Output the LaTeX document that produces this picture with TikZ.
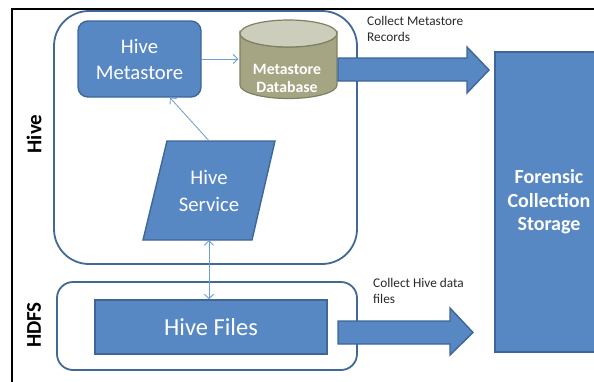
\documentclass[tikz,border=0pt]{standalone}
\usepackage{fontspec}
\setmainfont{Carlito}
\usetikzlibrary{arrows.meta}
\definecolor{boxblue}{RGB}{87,136,196}
\definecolor{boxedge}{RGB}{62,102,150}
\definecolor{contedge}{RGB}{66,104,150}
\definecolor{thinblue}{RGB}{108,156,212}
\definecolor{dbtop}{RGB}{205,205,188}
\definecolor{dbbody}{RGB}{165,165,132}
\definecolor{dbedge}{RGB}{128,128,100}
\definecolor{labelgray}{RGB}{40,40,40}
\tikzset{
  container/.style={draw=contedge, line width=1.8pt, fill=white},
  bluebox/.style={draw=boxedge, line width=1.4pt, fill=boxblue, text=white, align=center, inner sep=0pt},
  thinarrow/.style={draw=thinblue, line width=0.8pt},
  barb/.tip={Straight Barb[length=4.5pt,width=9pt]},
  blockarrow/.style={draw=boxedge, line width=1.4pt, fill=boxblue},
  smalllabel/.style={text=labelgray, align=left, inner sep=0pt, font=\fontsize{13.3}{16.5}\selectfont},
  sidelabel/.style={rotate=90, font=\fontsize{21}{24}\selectfont\bfseries, inner sep=0pt}
}
\begin{document}
\begin{tikzpicture}[x=1pt,y=-1pt]
\useasboundingbox (0,0) rectangle (594,381);
\clip (0,0) rectangle (594,381);
% outer frame
\draw[line width=1.3pt, black] (12,385) -- (12,9) -- (600,9);
% containers
\draw[container, rounded corners=35pt] (54,11) rectangle (357,264);
\draw[container, rounded corners=16pt] (57,282) rectangle (357,370);
\node[sidelabel] (hivelbl) at (34,134) {Hive};
\node[sidelabel] (hdfslbl) at (34,325) {HDFS};
% Hive Metastore
\node[bluebox, rounded corners=10pt, minimum width=123pt, minimum height=76pt,
      font=\fontsize{20.7}{26}\selectfont] (ms) at (139.5,59) {Hive\\Metastore};
% Metastore Database cylinder
\path[fill=dbbody, draw=dbedge, line width=1.2pt]
  (240,33.5) -- (240,85) arc[start angle=180, end angle=360, x radius=48.5pt, y radius=13.5pt]
  -- (337,33.5) arc[start angle=0, end angle=180, x radius=48.5pt, y radius=-13.5pt] -- cycle;
\draw[fill=dbtop, draw=dbedge, line width=1.2pt] (288.5,33.5) ellipse[x radius=48.5pt, y radius=13.5pt];
\node[text=white, align=center, inner sep=0pt, minimum width=97pt,
      font=\fontsize{15.8}{18}\selectfont\bfseries] (db) at (287,78) {Metastore\\Database};
% Hive Service parallelogram
\coordinate (svcA) at (143,240);
\coordinate (svcB) at (252,240);
\coordinate (svcC) at (275,141);
\coordinate (svcD) at (167,141);
\draw[draw=boxedge, line width=1.4pt, fill=boxblue] (svcA) -- (svcB) -- (svcC) -- (svcD) -- cycle;
\node[text=white, align=center, inner sep=0pt, minimum width=109pt, minimum height=99pt,
      font=\fontsize{20.7}{27}\selectfont] (svc) at (209,190.5) {Hive\\Service};
% Hive Files
\node[bluebox, minimum width=232pt, minimum height=54pt,
      font=\fontsize{24.5}{27}\selectfont] (hf) at (211,327) {Hive Files};
% Forensic Collection Storage
\node[bluebox, minimum width=108pt, minimum height=300pt,
      font=\fontsize{20}{23.5}\selectfont\bfseries] (fcs) at (549,202) {Forensic\\Collection\\Storage};
% thin connectors
\draw[thinarrow, -barb] (ms.east) -- (ms.east -| db.west);
\draw[thinarrow, -barb] (svc.north) -- ([xshift=30.5pt]ms.south);
\draw[thinarrow, barb-barb] (svc.south) -- (svc.south |- hf.north);
% block arrows
\draw[blockarrow] (338,58) -- (467,58) -- (467,47) -- (489,70) -- (467,93) -- (467,81) -- (338,81) -- cycle;
\draw[blockarrow] (338,321) -- (450,321) -- (450,308) -- (473,332.5) -- (450,355) -- (450,344) -- (338,344) -- cycle;
% labels
\node[smalllabel, anchor=north west] (lbl1) at (367,16) {Collect Metastore\\Records};
\node[smalllabel, anchor=north west] (lbl2) at (373,278) {Collect Hive data\\files};
\end{tikzpicture}
\end{document}
